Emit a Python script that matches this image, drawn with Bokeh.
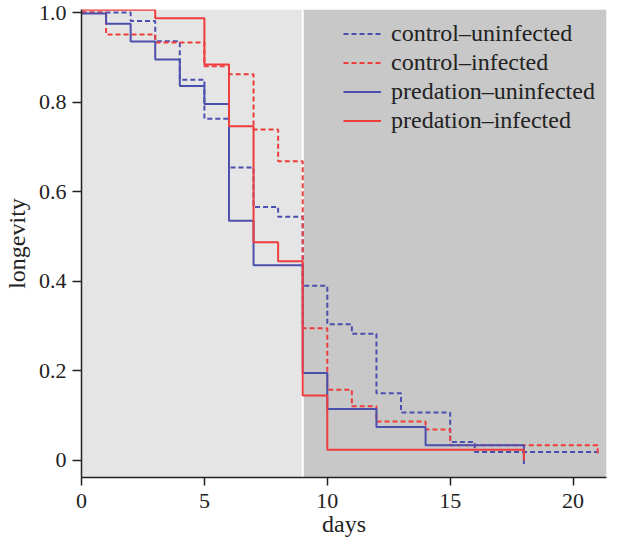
from bokeh.plotting import figure
from bokeh.models import Range1d, BoxAnnotation, Span, Legend, LegendItem, FixedTicker
from bokeh.embed import file_html
from bokeh.resources import INLINE

# ---- data ----
cu_days = [0, 2, 3, 4, 5, 6, 7, 8, 9, 10, 11, 12, 13, 15, 16, 21]
cu_surv = [1.0, 0.981, 0.936, 0.85, 0.763, 0.654, 0.566, 0.544, 0.39, 0.304, 0.283, 0.15, 0.107, 0.041, 0.019, 0.012]

ci_days = [0, 1, 3, 5, 6, 7, 8, 9, 10, 11, 12, 14, 15, 21]
ci_surv = [1.0, 0.951, 0.933, 0.88, 0.862, 0.739, 0.668, 0.295, 0.158, 0.121, 0.087, 0.069, 0.034, 0.012]

pu_days = [0, 1, 2, 3, 4, 5, 6, 7, 9, 10, 12, 14, 18]
pu_surv = [0.998, 0.975, 0.935, 0.895, 0.836, 0.796, 0.535, 0.436, 0.195, 0.115, 0.075, 0.034, -0.008]

pi_days = [0, 3, 5, 6, 7, 8, 9, 10, 18]
pi_surv = [1.006, 0.987, 0.884, 0.746, 0.487, 0.445, 0.145, 0.024, 0.0]

series_labels = ["control\u2013uninfected", "control\u2013infected",
                 "predation\u2013uninfected", "predation\u2013infected"]

x_ticks = [0, 5, 10, 15, 20]
y_ticks = [0, 0.2, 0.4, 0.6, 0.8, 1.0]
y_tick_labels = {0: "0", 0.2: "0.2", 0.4: "0.4", 0.6: "0.6", 0.8: "0.8", 1.0: "1.0"}

split_day = 9
x_max = 21.36

BLUE = "#4b4fae"
RED = "#ef3d3d"
FONT = "Liberation Serif"

p = figure(width=609, height=544, output_backend="svg", toolbar_location=None,
           x_range=Range1d(0, x_max), y_range=Range1d(-0.038, 1.0067),
           min_border_left=72, min_border_right=3, min_border_top=9, min_border_bottom=67)
p.outline_line_color = None
p.grid.visible = False
p.background_fill_color = "white"

p.add_layout(BoxAnnotation(left=0, right=split_day, fill_color="#e5e5e5", fill_alpha=1, line_color=None, level="underlay"))
p.add_layout(BoxAnnotation(left=split_day, right=x_max, fill_color="#c8c8c8", fill_alpha=1, line_color=None, level="underlay"))
p.add_layout(Span(location=split_day, dimension="height", line_color="white", line_width=2, level="underlay"))

r1 = p.step(cu_days, cu_surv, mode="after", line_color=BLUE, line_width=2, line_dash="5 3")
r2 = p.step(ci_days, ci_surv, mode="after", line_color=RED, line_width=2, line_dash="5 3")
r3 = p.step(pu_days, pu_surv, mode="after", line_color=BLUE, line_width=2)
r4 = p.step(pi_days, pi_surv, mode="after", line_color=RED, line_width=2)

legend = Legend(items=[LegendItem(label=l, renderers=[r]) for l, r in zip(series_labels, [r1, r2, r3, r4])],
                location=(262, 342), background_fill_alpha=0, border_line_alpha=0,
                label_text_font=FONT, label_text_font_size="24px", label_text_color="#222222",
                glyph_width=38, glyph_height=29, label_height=29, spacing=0, padding=0, margin=0,
                label_standoff=10)
p.add_layout(legend)

for ax in (p.xaxis[0], p.yaxis[0]):
    ax.axis_line_color = "#222222"
    ax.axis_line_width = 1.5
    ax.major_tick_line_color = "#222222"
    ax.major_tick_line_width = 1.5
    ax.major_tick_in = 0
    ax.minor_tick_line_color = None
    ax.major_label_text_font = FONT
    ax.major_label_text_font_size = "22px"
    ax.major_label_text_color = "#222222"
    ax.axis_label_text_font = FONT
    ax.axis_label_text_font_size = "24px"
    ax.axis_label_text_font_style = "normal"
    ax.axis_label_text_color = "#222222"

p.xaxis.ticker = FixedTicker(ticks=x_ticks)
p.xaxis.major_tick_out = 8
p.xaxis.major_label_standoff = 8
p.xaxis.axis_label = "days"
p.xaxis.axis_label_standoff = 0

p.yaxis.ticker = FixedTicker(ticks=y_ticks)
p.yaxis.major_label_overrides = y_tick_labels
p.yaxis.major_tick_out = 9
p.yaxis.major_label_standoff = 6
p.yaxis.axis_label = "longevity"
p.yaxis.axis_label_standoff = 6

open("out.html", "w").write(file_html(p, INLINE))
